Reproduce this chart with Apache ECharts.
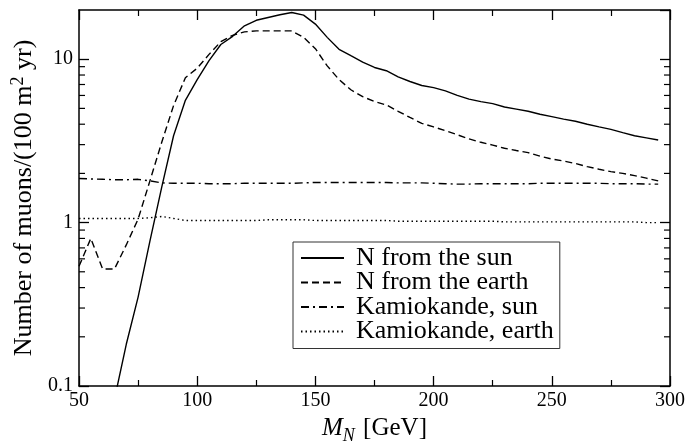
<!DOCTYPE html>
<html>
<head>
<meta charset="utf-8">
<script src="https://cdn.jsdelivr.net/npm/echarts@6/dist/echarts.min.js"></script>
<style>html,body{margin:0;padding:0;background:#fff}#c{width:689px;height:441px}</style>
</head>
<body>
<div id="c"></div>
<script>
const xVals = [50,55,60,65,70,75,80,85,90,95,100,105,110,115,120,125,130,135,140,145,150,155,160,165,170,175,180,185,190,195,200,205,210,215,220,225,230,235,240,245,250,255,260,265,270,275,280,285,290,295];
const sunN = [null,null,null,0.083,0.18,0.35,0.77,1.65,3.4,5.6,7.5,9.8,12.3,13.8,16.0,17.3,18.0,18.7,19.3,18.6,16.4,13.6,11.5,10.5,9.6,8.9,8.5,7.8,7.3,6.9,6.7,6.4,6.0,5.7,5.5,5.35,5.1,4.95,4.8,4.6,4.45,4.3,4.17,4.0,3.85,3.72,3.55,3.4,3.3,3.2];
const earthN = [0.54,0.8,0.52,0.52,0.73,1.05,1.8,3.1,5.2,7.7,8.8,10.7,12.8,14.0,14.7,14.9,14.9,14.9,14.9,13.6,11.6,9.1,7.5,6.5,5.9,5.5,5.25,4.8,4.4,4.05,3.85,3.65,3.45,3.25,3.1,2.98,2.85,2.76,2.68,2.55,2.45,2.38,2.3,2.2,2.12,2.05,2.0,1.94,1.87,1.8];
const kamSun = [1.86,1.85,1.84,1.83,1.83,1.84,1.80,1.75,1.74,1.74,1.74,1.73,1.73,1.73,1.74,1.74,1.74,1.74,1.74,1.75,1.76,1.76,1.76,1.76,1.76,1.76,1.76,1.75,1.75,1.75,1.74,1.73,1.72,1.72,1.73,1.73,1.73,1.73,1.73,1.74,1.74,1.74,1.74,1.74,1.74,1.73,1.73,1.73,1.72,1.72];
const kamEarth = [1.06,1.06,1.06,1.06,1.06,1.06,1.07,1.09,1.06,1.03,1.03,1.03,1.03,1.03,1.03,1.03,1.04,1.04,1.04,1.04,1.03,1.03,1.03,1.03,1.03,1.03,1.03,1.02,1.02,1.02,1.02,1.02,1.02,1.02,1.02,1.02,1.01,1.01,1.01,1.01,1.01,1.01,1.01,1.01,1.01,1.01,1.01,1.01,1.0,1.0];
const seriesNames = ['N from the sun','N from the earth','Kamiokande, sun','Kamiokande, earth'];
const yMinorTicks = [0.2,0.3,0.4,0.5,0.6,0.7,0.8,0.9,2,3,4,5,6,7,8,9];

const FONT = 'Liberation Serif';
const chart = echarts.init(document.getElementById('c'));
const pair = arr => xVals.map((x,i)=>[x, arr[i]]);
const lineSeries = (name, arr, type) => ({
  name, type:'line', data: pair(arr), symbol:'none', showSymbol:false,
  lineStyle:{color:'#000', width:1.4, type}, itemStyle:{color:'#000'},
  connectNulls:false, clip:true, animation:false
});
const axisCommon = {
  axisLine:{show:true, onZero:false, lineStyle:{color:'#000', width:1.5}},
  splitLine:{show:false}
};
chart.setOption({
  animation:false,
  backgroundColor:'#fff',
  grid:{left:79, right:19, top:10, bottom:55, containLabel:false, outerBoundsMode:'none'},
  legend:{
    data: seriesNames, orient:'vertical', left:293, top:242,
    borderColor:'#333', borderWidth:1, padding:[3,6,4,7],
    itemWidth:43, itemHeight:14, itemGap:-1.5,
    itemStyle:{opacity:0, color:'rgba(0,0,0,0)', borderWidth:0},
    textStyle:{fontFamily:FONT, fontSize:26, color:'#000', lineHeight:24.5, padding:[0,0,0,7]},
    selectedMode:false
  },
  xAxis:[
    Object.assign({type:'value', min:50, max:300, interval:50, position:'bottom',
      axisTick:{inside:true, length:10, lineStyle:{color:'#000', width:1.3}},
      minorTick:{show:true, splitNumber:2, length:6, lineStyle:{color:'#000', width:1.2}},
      axisLabel:{fontFamily:FONT, fontSize:20, color:'#000', margin:5},
      name:'{i|M}{s|N} [GeV]', nameLocation:'middle', nameGap:21,
      nameTextStyle:{fontFamily:FONT, fontSize:25, color:'#000',
        rich:{i:{fontFamily:FONT, fontSize:25, fontStyle:'italic'}, s:{fontFamily:FONT, fontSize:18, fontStyle:'italic', verticalAlign:'bottom', padding:[16,2,0,0]}}}
    }, axisCommon),
    Object.assign({type:'value', min:50, max:300, interval:50, position:'top',
      axisTick:{inside:true, length:10, lineStyle:{color:'#000', width:1.3}},
      minorTick:{show:true, splitNumber:2, length:6, lineStyle:{color:'#000', width:1.2}},
      axisLabel:{show:false}}, axisCommon)
  ],
  yAxis:[
    Object.assign({type:'log', logBase:10, min:0.1, max:20, position:'left',
      axisTick:{inside:true, length:10, lineStyle:{color:'#000', width:1.3}},
      axisLabel:{fontFamily:FONT, fontSize:20, color:'#000', margin:6, showMaxLabel:false,
        formatter: v => (Math.abs(v-0.1)<1e-9?'0.1':String(Math.round(v)))},
      name:'Number of muons/(100 m{p|2} yr)', nameLocation:'middle', nameGap:37,
      nameTextStyle:{fontFamily:FONT, fontSize:26, color:'#000',
        rich:{p:{fontFamily:FONT, fontSize:18, verticalAlign:'top', padding:[0,0,12,0]}}}
    }, axisCommon),
    Object.assign({type:'log', logBase:10, min:0.1, max:20, position:'right',
      axisTick:{inside:true, length:10, lineStyle:{color:'#000', width:1.3}},
      axisLabel:{show:false}}, axisCommon)
  ],
  series:[
    lineSeries(seriesNames[0], sunN, 'solid'),
    lineSeries(seriesNames[1], earthN, [7,4]),
    lineSeries(seriesNames[2], kamSun, [8,4,2,4]),
    lineSeries(seriesNames[3], kamEarth, [1.5,3]),
    {
      type:'custom', silent:true, animation:false, clip:false,
      data: yMinorTicks.map(v=>[50, v]),
      renderItem:(params, api)=>{
        const v = api.value(1);
        const pL = api.coord([50, v]);
        const pR = api.coord([300, v]);
        return {type:'group', children:[
          {type:'line', shape:{x1:pL[0], y1:pL[1], x2:pL[0]+6, y2:pL[1]}, style:{stroke:'#000', lineWidth:1.2}},
          {type:'line', shape:{x1:pR[0], y1:pR[1], x2:pR[0]-6, y2:pR[1]}, style:{stroke:'#000', lineWidth:1.2}}
        ]};
      }
    }
  ]
});
</script>
</body>
</html>
